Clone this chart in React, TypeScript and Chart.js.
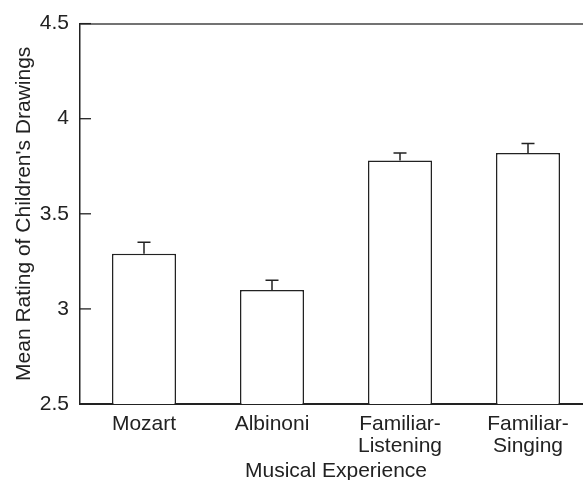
import React, { useEffect, useRef } from "react";
import { Chart, registerables } from "chart.js";

Chart.register(...registerables);

const categories: (string | string[])[] = [
  "Mozart",
  "Albinoni",
  ["Familiar-", "Listening"],
  ["Familiar-", "Singing"],
];
const means: number[] = [3.29, 3.1, 3.78, 3.82];
const errors: number[] = [0.06, 0.05, 0.04, 0.05];
const yTicks: number[] = [2.5, 3, 3.5, 4, 4.5];
const yTitle = "Mean Rating of Children's Drawings";
const xTitle = "Musical Experience";

const INK = "#222";
const FONT = "'Liberation Sans', Arial, Helvetica, sans-serif";

const framePlugin = {
  id: "frame",
  afterDatasetsDraw(chart: any) {
    const { ctx, chartArea, scales } = chart;
    const y = scales.y;
    ctx.save();
    // top border
    ctx.strokeStyle = "#444";
    ctx.lineWidth = 1.5;
    ctx.beginPath();
    ctx.moveTo(chartArea.left, chartArea.top + 0.5);
    ctx.lineTo(chartArea.right, chartArea.top + 0.5);
    ctx.stroke();
    // inward tick marks
    ctx.strokeStyle = INK;
    ctx.lineWidth = 1.3;
    yTicks.forEach((v) => {
      const py = y.getPixelForValue(v);
      ctx.beginPath();
      ctx.moveTo(chartArea.left, py);
      ctx.lineTo(chartArea.left + 11, py);
      ctx.stroke();
    });
    // error bars (upper only)
    const meta = chart.getDatasetMeta(0);
    ctx.lineWidth = 1.5;
    meta.data.forEach((el: any, i: number) => {
      const top = y.getPixelForValue(means[i] + errors[i]);
      ctx.beginPath();
      ctx.moveTo(el.x, el.y);
      ctx.lineTo(el.x, top);
      ctx.moveTo(el.x - 6.5, top);
      ctx.lineTo(el.x + 6.5, top);
      ctx.stroke();
    });
    ctx.restore();
  },
};

export default function App() {
  const ref = useRef<HTMLCanvasElement | null>(null);
  useEffect(() => {
    if (!ref.current) return;
    const chart = new Chart(ref.current, {
      type: "bar",
      data: {
        labels: categories as any,
        datasets: [
          {
            data: means,
            backgroundColor: "#fff",
            borderColor: INK,
            borderWidth: 1.5,
            categoryPercentage: 1,
            barPercentage: 0.5,
          },
        ],
      },
      options: {
        animation: false,
        responsive: true,
        maintainAspectRatio: false,
        layout: { padding: { top: 21, right: 8, left: 0, bottom: 0 } },
        plugins: { legend: { display: false }, tooltip: { enabled: false } },
        scales: {
          x: {
            type: "category",
            grid: { display: false, drawTicks: false },
            border: { display: true, color: INK, width: 2 },
            ticks: {
              color: INK,
              padding: 9,
              maxRotation: 0,
              autoSkip: false,
              font: { family: FONT, size: 21, lineHeight: 1.05 },
            },
            title: {
              display: true,
              text: xTitle,
              color: INK,
              font: { family: FONT, size: 21, lineHeight: 0.8 },
              padding: { top: 0, bottom: 0 },
            },
            afterFit(scale: any) {
              scale.height = 76;
            },
          },
          y: {
            min: 2.5,
            max: 4.5,
            grid: { drawOnChartArea: false, drawTicks: false },
            border: { display: true, color: INK, width: 1.5 },
            ticks: {
              stepSize: 0.5,
              color: INK,
              padding: 11,
              font: { family: FONT, size: 21 },
              callback: (v: any) => String(v),
            },
            afterBuildTicks(scale: any) {
              scale.ticks = yTicks.map((v) => ({ value: v }));
            },
            title: {
              display: true,
              text: yTitle,
              color: INK,
              font: { family: FONT, size: 21 },
              padding: { top: 12, bottom: 0 },
            },
            afterFit(scale: any) {
              scale.width = 80;
            },
          },
        },
      },
      plugins: [framePlugin],
    });
    return () => chart.destroy();
  }, []);
  return (
    <div
      style={{
        position: "absolute",
        left: 0,
        top: 0,
        width: 583,
        height: 480,
        overflow: "hidden",
        background: "#fff",
      }}
    >
      <div style={{ position: "relative", width: 600, height: 480 }}>
        <canvas ref={ref} />
      </div>
    </div>
  );
}
